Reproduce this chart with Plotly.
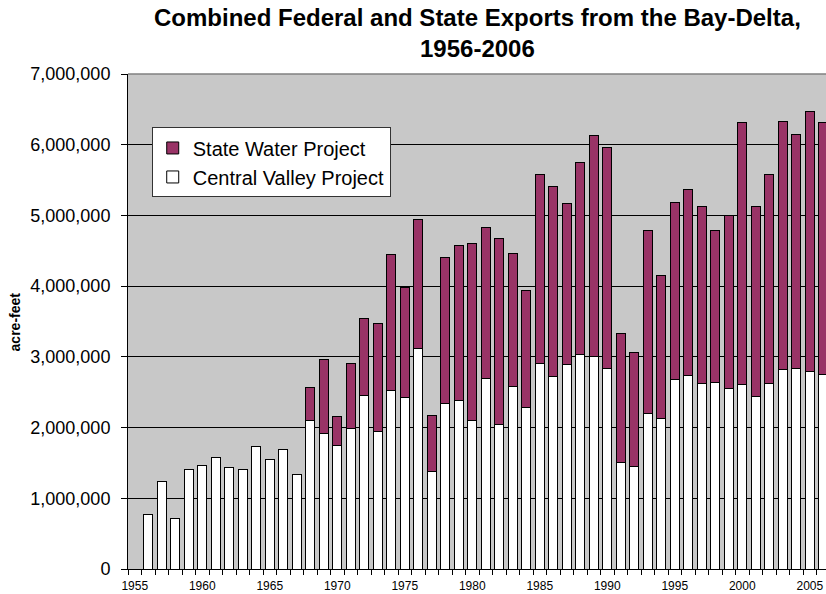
import plotly.graph_objects as go

years = list(range(1956, 2007))

# totals (top of stacked bar) and CVP part, acre-feet
total = [
    777000, 1239000, 711000, 1412000, 1469000, 1572000, 1436000, 1408000, 1733000, 1549000,
    1690000, 1332000, 2566000, 2957000, 2161000, 2910000, 3545000, 3475000, 4445000, 3978000,
    4944000, 2175000, 4402000, 4576000, 4609000, 4826000, 4680000, 4468000, 3936000, 5579000,
    5405000, 5169000, 5749000, 6134000, 5960000, 3329000, 3056000, 4788000, 4157000, 5179000,
    5372000, 5132000, 4783000, 5005000, 6318000, 5122000, 5574000, 6328000, 6144000, 6469000,
    6314000,
]
cvp = [
    777000, 1239000, 711000, 1412000, 1469000, 1572000, 1436000, 1408000, 1733000, 1549000,
    1690000, 1332000, 2095000, 1921000, 1747000, 1987000, 2448000, 1949000, 2524000, 2425000,
    3121000, 1375000, 2345000, 2387000, 2095000, 2693000, 2043000, 2580000, 2288000, 2900000,
    2726000, 2891000, 3027000, 3004000, 2829000, 1507000, 1445000, 2203000, 2128000, 2674000,
    2731000, 2627000, 2632000, 2547000, 2613000, 2434000, 2622000, 2820000, 2839000, 2792000,
    2745000,
]
swp = [t - c for t, c in zip(total, cvp)]

x_ticks = list(range(1955, 2006, 5))
y_ticks = list(range(0, 7000001, 1000000))

FONT = "Liberation Sans, Arial, sans-serif"

fig = go.Figure()
fig.add_trace(go.Bar(
    x=years, y=cvp, name="Central Valley Project", width=0.65,
    marker=dict(color="white", line=dict(color="black", width=1)),
))
fig.add_trace(go.Bar(
    x=years, y=swp, name="State Water Project", width=0.65,
    marker=dict(color="#993366", line=dict(color="black", width=1)),
))

fig.update_layout(
    width=826, height=594,
    barmode="stack",
    paper_bgcolor="white",
    plot_bgcolor="#C8C8C8",
    margin=dict(l=128, r=0, t=74, b=25),
    font=dict(family=FONT, color="black"),
    legend=dict(
        x=0.034, y=0.892, xanchor="left", yanchor="top",
        traceorder="reversed",
        bgcolor="white", bordercolor="#333333", borderwidth=1,
        font=dict(size=20, family=FONT),
        itemwidth=30, tracegroupgap=0,
    ),
    showlegend=True,
)

fig.update_xaxes(
    range=[1954.5, 2006.2],
    tickvals=x_ticks, ticktext=[str(v) for v in x_ticks],
    ticks="", tickfont=dict(size=12), ticklabelstandoff=6,
    showline=True, linecolor="black", linewidth=1,
    showgrid=False, zeroline=False,
    minor=dict(tickmode="linear", tick0=0.5, dtick=1, ticks="outside",
               ticklen=5, tickcolor="black", tickwidth=1, showgrid=False),
)
fig.update_yaxes(
    range=[0, 7000000],
    tickvals=y_ticks, tickformat=",d",
    ticks="outside", ticklen=6, tickcolor="black",
    tickfont=dict(size=18), ticklabelstandoff=7,
    showline=True, linecolor="black", linewidth=1,
    showgrid=True, gridcolor="black", gridwidth=1,
    zeroline=False,
)

# gray border along the top of the plot area
fig.add_shape(type="line", xref="paper", yref="paper", x0=0, x1=1, y0=1, y1=1,
              line=dict(color="#808080", width=1.5))

fig.add_annotation(
    text="<b>Combined Federal and State Exports from the Bay-Delta,<br>1956-2006</b>",
    xref="paper", yref="paper", x=0.5, y=1.145,
    xanchor="center", yanchor="top", showarrow=False,
    font=dict(size=24, family=FONT),
)
fig.add_annotation(
    text="<b>acre-feet</b>", textangle=-90,
    xref="paper", yref="paper", x=-0.162, y=0.5,
    xanchor="center", yanchor="middle", showarrow=False,
    font=dict(size=14, family=FONT),
)

fig.write_html(
    "out.html",
    config={"displayModeBar": False},
    post_script="document.body.style.margin='0';document.body.style.overflow='hidden';",
)
